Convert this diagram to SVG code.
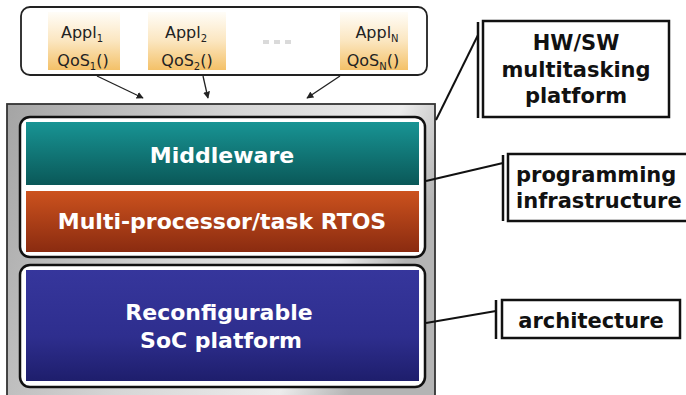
<svg xmlns="http://www.w3.org/2000/svg" width="686" height="395" viewBox="0 0 686 395">
<style>
.lbl{font-family:"DejaVu Sans",Verdana,sans-serif;font-weight:bold;fill:#ffffff;font-size:22px;text-anchor:middle}
.side{font-family:"DejaVu Sans",Verdana,sans-serif;font-weight:bold;fill:#111;font-size:21px;text-anchor:middle}
.app{font-family:"DejaVu Sans",Verdana,sans-serif;fill:#222;font-size:16px;text-anchor:middle}
.sub{font-size:10px}
.frame{fill:#fff;stroke:#111;stroke-width:2.5}
.conn{stroke:#111;stroke-width:2;fill:none}
.arr{stroke:#222;stroke-width:1.3;fill:none;marker-end:url(#ah)}
</style>
<defs>
<marker id="ah" viewBox="0 0 10 10" refX="9" refY="5" markerWidth="7" markerHeight="7" orient="auto" markerUnits="userSpaceOnUse"><path d="M0,0 L10,5 L0,10 z" fill="#222"/></marker>
<linearGradient id="tile" x1="0" y1="0" x2="0" y2="1"><stop offset="0" stop-color="#fffdf8"/><stop offset="0.5" stop-color="#fbe6c0"/><stop offset="1" stop-color="#f4c168"/></linearGradient>
<linearGradient id="gray" x1="0" y1="0" x2="1" y2="0.3"><stop offset="0" stop-color="#a4a4a4"/><stop offset="0.5" stop-color="#d6d6d6"/><stop offset="0.85" stop-color="#ececec"/><stop offset="1" stop-color="#b4b4b4"/></linearGradient>
<linearGradient id="teal" x1="0" y1="0" x2="0" y2="1"><stop offset="0" stop-color="#189494"/><stop offset="1" stop-color="#0a5858"/></linearGradient>
<linearGradient id="orange" x1="0" y1="0" x2="0" y2="1"><stop offset="0" stop-color="#cc521e"/><stop offset="1" stop-color="#8a2b10"/></linearGradient>
<linearGradient id="blue" x1="0" y1="0" x2="0" y2="1"><stop offset="0" stop-color="#36369c"/><stop offset="0.6" stop-color="#2e2e8e"/><stop offset="1" stop-color="#1e1e6c"/></linearGradient>
</defs>
<rect width="686" height="395" fill="#fff"/>

<g id="apps">
<rect x="21" y="7" width="406" height="68" rx="9" fill="#fff" stroke="#222" stroke-width="1.8"/>
<rect x="48" y="12" width="72" height="58" fill="url(#tile)"/>
<rect x="148" y="12" width="78" height="58" fill="url(#tile)"/>
<rect x="340" y="12" width="68" height="58" fill="url(#tile)"/>
<text class="app" x="82" y="38">Appl<tspan class="sub" dy="4">1</tspan></text>
<text class="app" x="83" y="66">QoS<tspan class="sub" dy="4">1</tspan><tspan dy="-4">()</tspan></text>
<text class="app" x="186" y="38">Appl<tspan class="sub" dy="4">2</tspan></text>
<text class="app" x="187" y="66">QoS<tspan class="sub" dy="4">2</tspan><tspan dy="-4">()</tspan></text>
<text class="app" x="377" y="38">Appl<tspan class="sub" dy="4">N</tspan></text>
<text class="app" x="373" y="66">QoS<tspan class="sub" dy="4">N</tspan><tspan dy="-4">()</tspan></text>
<g fill="#dadada"><rect x="263" y="40" width="6" height="4"/><rect x="274" y="40" width="6" height="4"/><rect x="285" y="40" width="6" height="4"/></g>
</g>

<g id="platform">
<rect x="7" y="104" width="428" height="300" fill="url(#gray)" stroke="#333" stroke-width="1.8"/>
</g>

<g id="software">
<rect class="frame" x="20" y="117" width="405" height="140" rx="10"/>
<rect x="26" y="122" width="393" height="63" fill="url(#teal)"/>
<rect x="26" y="191" width="393" height="61" fill="url(#orange)"/>
<text class="lbl" x="222" y="163">Middleware</text>
<text class="lbl" x="222" y="229">Multi-processor/task RTOS</text>
</g>

<g id="hardware">
<rect class="frame" x="20" y="265" width="405" height="122" rx="10"/>
<rect x="26" y="270" width="393" height="111" fill="url(#blue)"/>
<text class="lbl" x="219" y="320">Reconfigurable</text>
<text class="lbl" x="221" y="348">SoC platform</text>
</g>

<g id="hwsw">
<rect x="483" y="21" width="186" height="96" fill="#fff" stroke="#111" stroke-width="2.5"/>
<line x1="478" y1="22" x2="478" y2="118" stroke="#111" stroke-width="2.5"/>
<text class="side" x="576" y="50">HW/SW</text>
<text class="side" x="576" y="77">multitasking</text>
<text class="side" x="576" y="103">platform</text>
</g>

<g id="prog">
<rect x="508" y="154" width="200" height="67" fill="#fff" stroke="#111" stroke-width="2.5"/>
<line x1="503" y1="155" x2="503" y2="221" stroke="#111" stroke-width="2.5"/>
<text class="side" x="516" y="182" style="text-anchor:start">programming</text>
<text class="side" x="516" y="208" style="text-anchor:start">infrastructure</text>
</g>

<g id="arch">
<rect x="502" y="300" width="178" height="38" fill="#fff" stroke="#111" stroke-width="2.5"/>
<line x1="496" y1="300" x2="496" y2="339" stroke="#111" stroke-width="2.5"/>
<text class="side" x="591" y="328">architecture</text>
</g>

<g id="connectors">
<line class="arr" x1="97" y1="76" x2="143" y2="98"/>
<line class="arr" x1="203" y1="76" x2="208" y2="98"/>
<line class="arr" x1="340" y1="76" x2="307" y2="98"/>
<line class="conn" x1="436" y1="120" x2="478" y2="35"/>
<line class="conn" x1="426" y1="181" x2="503" y2="163"/>
<line class="conn" x1="426" y1="323" x2="496" y2="311"/>
</g>
</svg>
